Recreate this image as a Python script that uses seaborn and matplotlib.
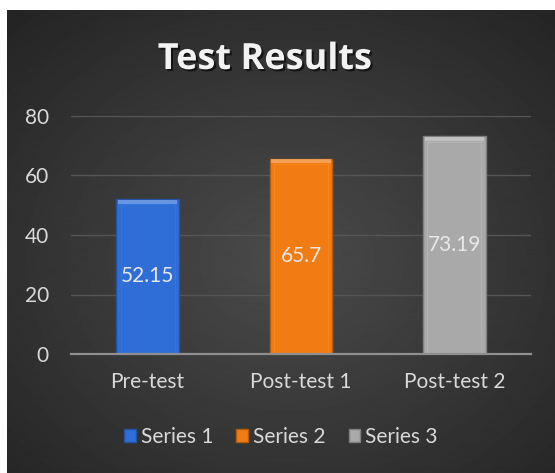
import numpy as np
import pandas as pd
import seaborn as sns
import matplotlib.pyplot as plt
import matplotlib.patheffects as pe
from matplotlib.patches import Rectangle
from matplotlib.colors import to_rgb

categories = ["Pre-test", "Post-test 1", "Post-test 2"]
series = ["Series 1", "Series 2", "Series 3"]
values = [52.15, 65.7, 73.19]
value_labels = ["52.15", "65.7", "73.19"]
colors = ["#2f6ed6", "#f27c14", "#a9a9a9"]
yticks = [0, 20, 40, 60, 80]

sns.set_theme(style="dark")
plt.rcParams["font.family"] = ["Lato", "DejaVu Sans"]

df = pd.DataFrame({"category": categories, "series": series, "value": values})

fig = plt.figure(figsize=(5.55, 4.73), dpi=100)
fig.patch.set_facecolor("white")

# dark radial background
bg = fig.add_axes([7 / 555, 0, 548 / 555, 463 / 473])
h, w = 463, 548
yy, xx = np.mgrid[0:h, 0:w]
r = np.sqrt(((xx - 280) / w) ** 2 + ((yy - 250) / h) ** 2)
shade = np.clip(0.295 - 0.21 * r, 0, 1)
bg.imshow(shade, cmap="gray", vmin=0, vmax=1, aspect="auto", interpolation="bilinear")
bg.axis("off")

ax = fig.add_axes([71 / 555, 119 / 473, 460 / 555, 238 / 473])
ax.patch.set_alpha(0)

sns.barplot(data=df, x="category", y="value", hue="series", palette=colors,
            dodge=False, width=0.41, saturation=1, ax=ax, legend=True)

# simple bevel look
for bar, c in zip(ax.patches, colors):
    x, y0 = bar.get_x(), bar.get_y()
    bw, bh = bar.get_width(), bar.get_height()
    if not np.isfinite(bh) or bh == 0:
        continue
    base = np.array(to_rgb(c))
    bar.set_edgecolor(tuple(base * 0.75))
    bar.set_linewidth(1.0)
    light = tuple(np.clip(base + (1 - base) * 0.35, 0, 1))
    z = bar.get_zorder() + 0.1
    ax.add_patch(Rectangle((x + bw * 0.03, y0 + bh - 1.6), bw * 0.94, 1.3, facecolor=light,
                           edgecolor="none", alpha=0.8, zorder=z))
    ax.add_patch(Rectangle((x + bw * 0.07, y0 + 0.4), bw * 0.86, bh - 2.2,
                           facecolor="none", edgecolor=tuple(np.clip(base * 1.1, 0, 1)),
                           lw=0.8, alpha=0.7, zorder=z))

for cont, lab in zip(ax.containers, value_labels):
    ax.bar_label(cont, labels=[lab], label_type="center", color="#e8e8e8",
                 fontsize=15, zorder=5)

ax.set_ylim(0, 80)
ax.set_yticks(yticks)
ax.set_xlabel("")
ax.set_ylabel("")
ax.grid(axis="y", color="#555555", lw=1)
ax.grid(axis="x", visible=False)
ax.set_axisbelow(True)
for s in ["top", "right", "left"]:
    ax.spines[s].set_visible(False)
ax.spines["bottom"].set_color("#8f8f8f")
ax.spines["bottom"].set_linewidth(1.6)
ax.tick_params(axis="y", colors="#d9d9d9", labelsize=15, length=0, pad=16)
ax.tick_params(axis="x", colors="#d9d9d9", labelsize=15, length=0, pad=13)

handles, labels = ax.get_legend_handles_labels()
ax.get_legend().remove()
for hd, c in zip(handles, colors):
    hd.set_edgecolor(tuple(np.array(to_rgb(c)) * 0.75))
fig.legend(handles, labels, loc="center", bbox_to_anchor=(281 / 555, 36 / 473),
           ncol=3, frameon=False, fontsize=15, labelcolor="#d9d9d9",
           handlelength=0.55, handleheight=0.55, handletextpad=0.25, columnspacing=1.1)

fig.text(265 / 555, 413 / 473, "Test Results", ha="center", va="center",
         fontsize=26, fontweight="bold", color="#f2f2f2", family=["Open Sans", "DejaVu Sans"],
         path_effects=[pe.withSimplePatchShadow(offset=(1.5, -1.5), shadow_rgbFace="black", alpha=0.6)])

fig.savefig("out.png", dpi=100)
